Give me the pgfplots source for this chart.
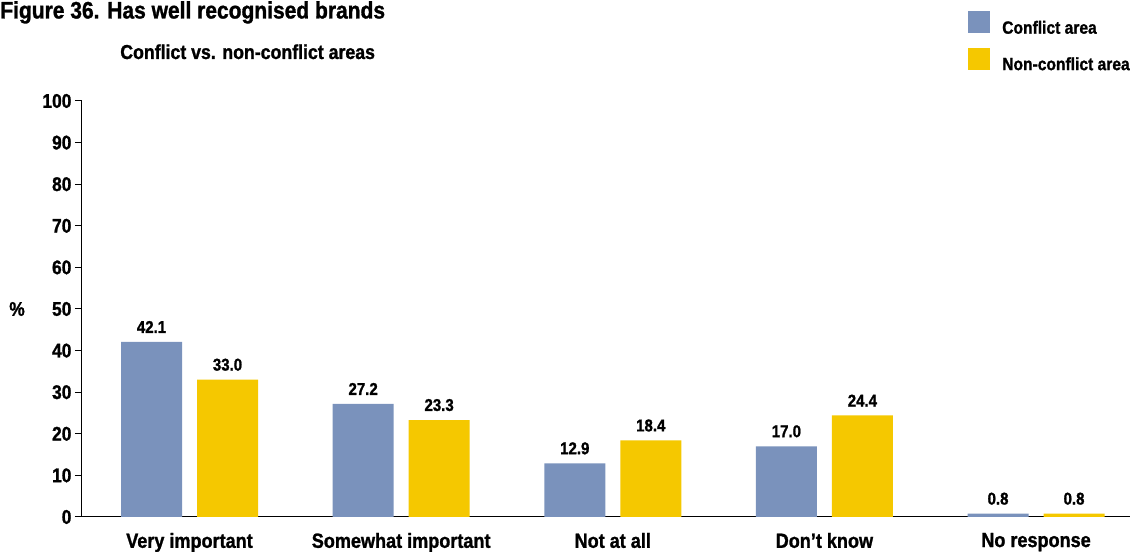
\documentclass[border=0pt]{standalone}
\usepackage{fontspec}
\setmainfont{Liberation Sans}[FakeStretch=0.88, BoldFeatures={FakeBold=1.2}]
\usepackage{pgfplots}
\pgfplotsset{compat=1.18}
\definecolor{cblue}{RGB}{122,146,188}
\definecolor{cyellow}{RGB}{245,200,0}
\begin{document}
\begin{tikzpicture}
\useasboundingbox (-61.5pt,-26.25pt) rectangle (786pt,387.75pt);
\begin{axis}[
  at={(0pt,0pt)}, anchor=south west,
  scale only axis, width=786pt, height=312pt,
  clip=false,
  ybar=11.25pt, bar width=45.75pt,
  xmin=-0.508, xmax=4.444, ymin=0, ymax=100,
  axis x line=bottom, axis y line=left,
  axis line style={line width=0.75pt, -},
  /pgf/number format/assume math mode=true,
  xtick=data,
  xticklabels={Very important, Somewhat important, Not at all, Don’t know, No response},
  x tick style={draw=none},
  xticklabel style={font=\fontsize{15.4}{17}\selectfont\bfseries, anchor=north, inner sep=0pt, yshift=-6.5pt},
  ytick={0,10,...,100},
  y tick style={line width=0.75pt, black},
  tick align=outside, major tick length=5.25pt,
  yticklabel style={font=\fontsize{14.8}{16}\selectfont\bfseries, inner sep=0pt, xshift=-2.5pt},
  nodes near coords,
  nodes near coords style={font=\fontsize{12.8}{14}\selectfont\bfseries, text=black, inner sep=0pt, anchor=south, yshift=6.5pt,
    /pgf/number format/.cd, fixed, fixed zerofill, precision=1, assume math mode=true},
  legend style={at={(rel axis cs:0.8454,1.2163)}, anchor=north west, draw=none, fill=none, inner sep=0pt,
    row sep=9pt, font=\fontsize{13.3}{15}\selectfont\bfseries,
    nodes={inner sep=0pt},
    /tikz/every odd column/.append style={column sep=9pt}},
  legend cell align=left,
  legend image code/.code={\fill[#1] (0pt,-3.75pt) rectangle (16.5pt,12.75pt);},
]
\addplot[fill=cblue, draw=none] coordinates {(0,42.1) (1,27.2) (2,12.9) (3,17.0) (4,0.8)};
\addplot[fill=cyellow, draw=none] coordinates {(0,33.0) (1,23.3) (2,18.4) (3,24.4) (4,0.8)};
\legend{Conflict area, Non-conflict area}
\node[anchor=base west, font=\fontsize{17.9}{19}\selectfont\bfseries, inner sep=0pt] at (rel axis cs:-0.0782,1.1983) {Figure 36. Has well recognised brands};
\node[anchor=base west, font=\fontsize{15.1}{17}\selectfont\bfseries, inner sep=0pt] at (rel axis cs:0.0363,1.101) {Conflict vs. non-conflict areas};
\node[font=\fontsize{14.8}{16}\selectfont\bfseries, inner sep=0pt] at (rel axis cs:-0.062,0.5) {\%};
\end{axis}
\end{tikzpicture}
\end{document}
